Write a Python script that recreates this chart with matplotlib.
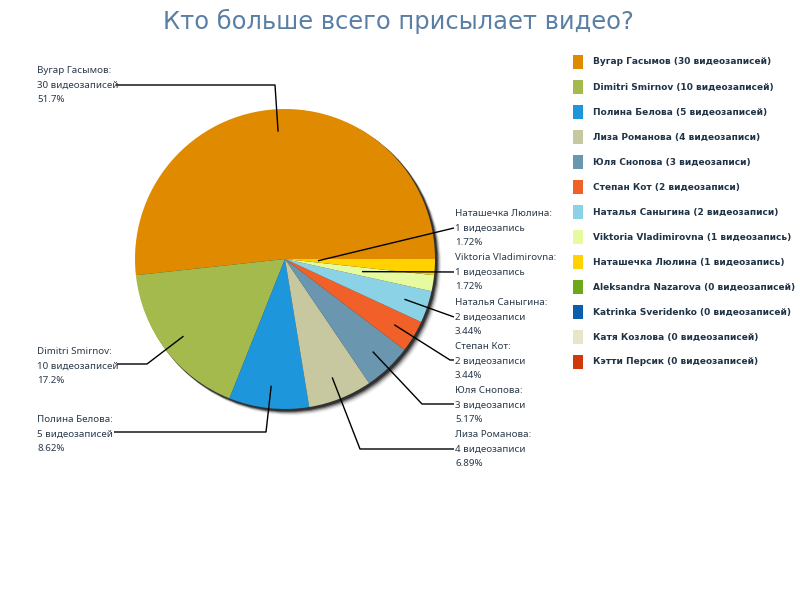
import matplotlib
matplotlib.use("Agg")
import matplotlib.pyplot as plt
from matplotlib.patches import Circle, Rectangle
import numpy as np

plt.rcParams['font.family'] = ['DejaVu Sans']

title = "Кто больше всего присылает видео?"
names = ["Вугар Гасымов", "Dimitri Smirnov", "Полина Белова", "Лиза Романова",
         "Юля Снопова", "Степан Кот", "Наталья Саныгина", "Viktoria Vladimirovna",
         "Наташечка Люлина", "Aleksandra Nazarova", "Katrinka Sveridenko",
         "Катя Козлова", "Кэтти Персик"]
counts = [30, 10, 5, 4, 3, 2, 2, 1, 1, 0, 0, 0, 0]
words = ["видеозаписей", "видеозаписей", "видеозаписей", "видеозаписи",
         "видеозаписи", "видеозаписи", "видеозаписи", "видеозапись",
         "видеозапись", "видеозаписей", "видеозаписей", "видеозаписей",
         "видеозаписей"]
percents = ["51.7%", "17.2%", "8.62%", "6.89%", "5.17%", "3.44%", "3.44%",
            "1.72%", "1.72%"]
colors = ["#E08A00", "#A4BA4C", "#1E96DC", "#C8C8A0", "#6A96B0", "#F06028",
          "#8CD2E6", "#E6FAA0", "#FFD200", "#6CA81A", "#0A5FAA", "#E8E6C8",
          "#D03A0A"]

W, H = 800, 600
fig = plt.figure(figsize=(8, 6), dpi=100)
fig.patch.set_facecolor("white")
ax = fig.add_axes([0, 0, 1, 1])

def Y(py):
    return H - py

cx, cy, R = 285, Y(259), 150

# shadow (soft, offset to lower right)
for off, a in [(6, 0.05), (5, 0.10), (4, 0.2), (3, 0.35), (2, 0.55)]:
    ax.add_patch(Circle((cx + off, cy - off), R + 0.5, color="black", alpha=a, lw=0, zorder=1))

vals = [c for c in counts if c > 0]
cols = colors[:len(vals)]
wedges, _ = ax.pie(vals, colors=cols, startangle=0, counterclock=True,
                   center=(cx, cy), radius=R, wedgeprops=dict(linewidth=0))
for w in wedges:
    w.set_zorder(2)

ax.set_xlim(0, W)
ax.set_ylim(0, H)
ax.set_aspect("equal")
ax.axis("off")

# label layout (pixel coords): anchor radius fraction, text x, middle-line y, elbow, end
layout = [
    (0.85, 37, 85, (275, 85), (116, 85)),
    (0.85, 37, 366, (147, 364), (117, 364)),
    (0.85, 37, 434, (266, 432), (114, 432)),
    (0.85, 455, 449, (360, 449), (454, 449)),
    (0.85, 455, 405, (422, 404), (454, 404)),
    (0.85, 455, 361, (450, 360), (454, 360)),
    (0.84, 455, 317, (454, 317), (454, 317)),
    (0.52, 455, 272, (454, 272), (454, 272)),
    (0.22, 455, 228, (454, 228), (454, 228)),
]
txtc = "#2A3A4A"
fs = 7
gap = 14.5
for i, w in enumerate(wedges):
    ang = np.deg2rad((w.theta1 + w.theta2) / 2)
    fr, tx, ty, elb, end = layout[i]
    axp = cx + fr * R * np.cos(ang)
    ayp = cy + fr * R * np.sin(ang)
    ax.plot([axp, elb[0], end[0]], [ayp, Y(elb[1]), Y(end[1])],
            color="black", lw=1.0, zorder=3, solid_capstyle="butt")
    lines = [names[i] + ":", f"{counts[i]} {words[i]}", percents[i]]
    for k, s in enumerate(lines):
        ax.text(tx, Y(ty + (k - 1) * gap), s, fontsize=fs, color=txtc,
                family=["Noto Sans", "DejaVu Sans"],
                ha="left", va="center", zorder=4)

# title
ax.text(398, Y(21), title, fontsize=17.4, color="#5A7FA5", ha="center", va="center")

# legend
for i, (n, c, wd) in enumerate(zip(names, counts, words)):
    yy = 62 + 25 * i
    ax.add_patch(Rectangle((573, Y(yy + 7)), 10, 14, color=colors[i], lw=0))
    ax.text(593, Y(yy), f"{n} ({c} {wd})", fontsize=6.5, fontweight="bold",
            color="#1F3347", ha="left", va="center")

fig.savefig("out.png", dpi=100, facecolor="white")
